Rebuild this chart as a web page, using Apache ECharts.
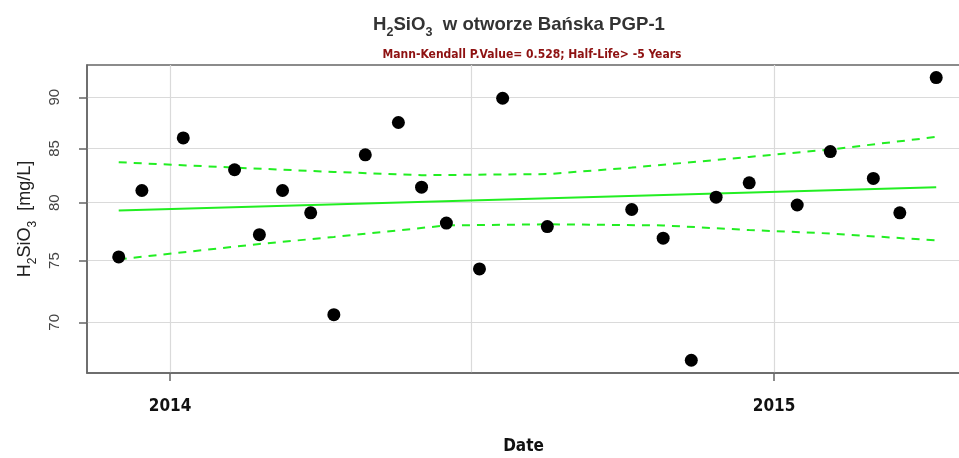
<!DOCTYPE html>
<html>
<head>
<meta charset="utf-8">
<script src="https://cdn.jsdelivr.net/npm/echarts@6/dist/echarts.min.js"></script>
<style>html,body{margin:0;padding:0;background:#fff;}#chart{width:959px;height:458px;}</style>
</head>
<body>
<div id="chart"></div>
<script>
const sampleDates = ['2013-12-01','2013-12-15','2014-01-09','2014-02-09','2014-02-24','2014-03-10','2014-03-27','2014-04-10','2014-04-29','2014-05-19','2014-06-02','2014-06-17','2014-07-07','2014-07-21','2014-08-17','2014-10-07','2014-10-26','2014-11-12','2014-11-27','2014-12-17','2015-01-15','2015-02-04','2015-03-02','2015-03-18','2015-04-09'];
const sampleValues = [75.3,81.1,86.0,83.0,77.2,81.1,79.1,70.6,84.4,87.5,81.4,78.2,74.3,89.9,77.9,79.4,76.9,67.1,80.5,81.8,79.8,84.7,82.2,79.1,92.0];

const trendDates = ['2013-12-01','2015-04-09'];
const trendValues = [79.3,81.4];

const upperDates = ['2013-12-01','2014-02-09','2014-04-10','2014-06-02','2014-08-17','2014-10-07','2014-12-17','2015-02-04','2015-04-09'];
const upperValues = [83.7,83.2,82.8,82.5,82.6,83.2,84.2,84.9,86.1];

const lowerDates = ['2013-12-01','2014-02-24','2014-04-10','2014-06-17','2014-08-17','2014-10-26','2014-12-17','2015-02-04','2015-04-09'];
const lowerValues = [75.1,76.4,77.0,78.0,78.1,78.0,77.6,77.3,76.7];

const yTicks = [70,75,80,85,90];
const xTickDates = ['2014-01-01','2015-01-01'];
const xTickLabels = ['2014','2015'];
const xGridDates = ['2014-01-01','2014-07-02','2015-01-01'];

const xMin = '2013-11-11T20:00:00';
const xMax = '2015-04-23T09:00:00';

function ts(s){ return new Date(s.length === 10 ? s + 'T00:00:00' : s).getTime(); }
function pairs(ds, vs){ return ds.map((d,i)=>[ts(d), vs[i]]); }

const xTickTs = xTickDates.map(ts);
const green = '#22ee22';
const condensed = "'DejaVu Sans Condensed', 'Liberation Sans', sans-serif";

const chart = echarts.init(document.getElementById('chart'), null, {renderer:'canvas'});
chart.setOption({
  animation: false,
  backgroundColor: '#ffffff',
  title: [
    {
      text: '{a|H}{s|2}{a|SiO}{s|3}{a|  w otworze Bańska PGP-1}',
      left: 514, top: 9, textAlign: 'center',
      textStyle: {
        rich: {
          a: {fontFamily: 'Liberation Sans', fontWeight: 'bold', fontSize: 18.6, color: '#333', lineHeight: 22},
          s: {fontFamily: 'Liberation Sans', fontWeight: 'bold', fontSize: 12.5, color: '#333', lineHeight: 12, verticalAlign: 'bottom', padding:[0,0,-3,0]}
        }
      }
    },
    {
      text: 'Mann-Kendall P.Value= 0.528; Half-Life> -5 Years',
      left: 527, top: 44, textAlign: 'center',
      textStyle: {fontFamily: condensed, fontWeight: 'bold', fontSize: 12, color: '#8e1111'}
    }
  ],
  grid: {
    left: 87, top: 65, width: 873, height: 308,
    show: true, borderColor: '#666', borderWidth: 1.5,
    containLabel: false, outerBoundsMode: 'none'
  },
  xAxis: {
    type: 'value',
    min: ts(xMin), max: ts(xMax),
    name: 'Date', nameLocation: 'middle', nameGap: 65,
    nameTextStyle: {fontFamily: condensed, fontWeight: 'bold', fontSize: 17, color: '#111'},
    axisLine: {show: true, lineStyle: {color: '#666', width: 1.5}},
    axisTick: {show: true, length: 8, lineStyle: {color: '#666', width: 1.5}, customValues: xTickTs},
    axisLabel: {
      customValues: xTickTs, margin: 25,
      fontFamily: condensed, fontWeight: 'bold', fontSize: 17, color: '#111',
      formatter: function(v){ const i = xTickTs.indexOf(v); return i >= 0 ? xTickLabels[i] : String(new Date(v).getFullYear()); }
    },
    splitLine: {show: false}
  },
  yAxis: {
    type: 'log', logBase: 10,
    min: 66.15, max: 93.3,
    name: '{a|H}{s|2}{a|SiO}{s|3}{a|  [mg/L]}',
    nameLocation: 'middle', nameGap: 51, nameRotate: 90,
    nameTextStyle: {
      rich: {
        a: {fontFamily: 'Liberation Sans', fontSize: 18, color: '#222', lineHeight: 22},
        s: {fontFamily: 'Liberation Sans', fontSize: 12, color: '#222', lineHeight: 12, verticalAlign: 'bottom', padding:[0,0,-3,0]}
      }
    },
    axisLine: {show: true, lineStyle: {color: '#666', width: 1.5}},
    axisTick: {show: true, length: 8, lineStyle: {color: '#666', width: 1.5}, customValues: yTicks},
    axisLabel: {
      customValues: yTicks, rotate: 90, margin: 25,
      fontFamily: 'Liberation Sans', fontSize: 15, color: '#444'
    },
    splitLine: {show: false}
  },
  series: [
    {
      type: 'line', name: 'trend', z: 2,
      data: pairs(trendDates, trendValues),
      symbol: 'none', lineStyle: {color: green, width: 2},
      markLine: {
        silent: true, symbol: 'none', z: 0,
        label: {show: false},
        lineStyle: {color: '#dadada', width: 1.2, type: 'solid'},
        data: yTicks.map(v => ({yAxis: v})).concat(xGridDates.map(d => ({xAxis: ts(d)})))
      }
    },
    {
      type: 'line', name: 'upper', z: 2,
      data: pairs(upperDates, upperValues),
      symbol: 'none', lineStyle: {color: green, width: 2, type: [8,7]}
    },
    {
      type: 'line', name: 'lower', z: 2,
      data: pairs(lowerDates, lowerValues),
      symbol: 'none', lineStyle: {color: green, width: 2, type: [8,7]}
    },
    {
      type: 'scatter', name: 'H2SiO3', z: 3,
      data: pairs(sampleDates, sampleValues),
      symbol: 'circle', symbolSize: 13,
      itemStyle: {color: '#000', opacity: 1}
    }
  ]
});
</script>
</body>
</html>
